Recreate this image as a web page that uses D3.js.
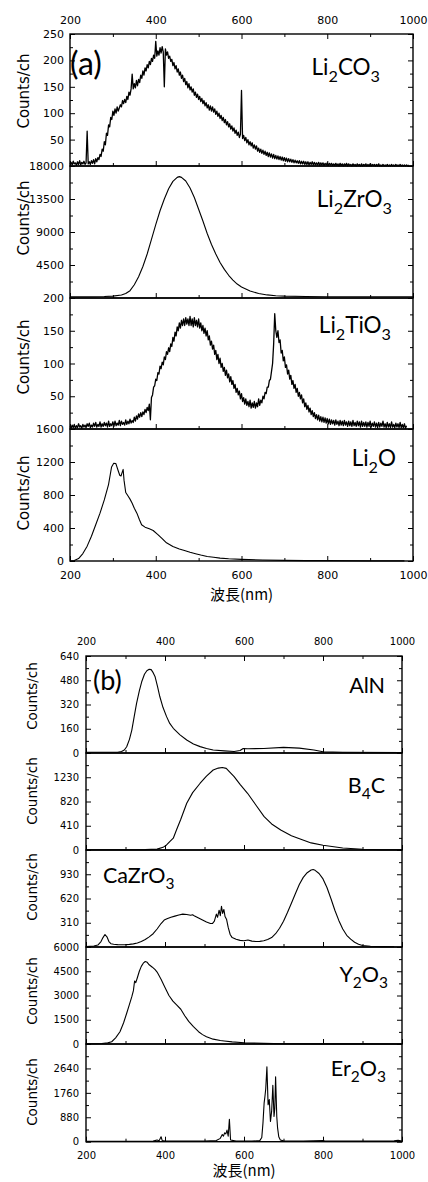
<!DOCTYPE html>
<html>
<head>
<meta charset="utf-8">
<script src="https://cdn.jsdelivr.net/npm/d3@7"></script>
<style>
  body { margin: 0; background: #fff; }
  svg { display: block; }
  .tick text { font-family: "DejaVu Sans", "Liberation Sans", sans-serif; fill: #000; }
  .tick line { stroke: #000; stroke-width: 1; }
</style>
</head>
<body>
<svg id="chart" width="428" height="1182"></svg>
<script>
// ---- wavelength ticks (nm) ----
const xTickLabels = [200, 400, 600, 800, 1000];
const xTickMinor = [300, 500, 700, 900];

// ---- (a) lithium compounds ----
// Li2CO3 counts, one channel every 2.5 nm starting at 200 nm
const li2co3Start = 200, li2co3Step = 2.5;
const li2co3Counts = [
  3,7,2,9,4,6,1,8,3,10,2,7,4,9,3, 6, 66,
  4,8,3,10,5,12,4,14,8,16,12,
  22,18,32,28,46,40,62,58,78,74,92,88,104,96,108,100,112,104,110,116,112,124,118,126,120,132,126,140,134,146,
  174,
  146,156,148,162,152,164,158,172,166,180,172,186,180,192,186,198,192,204,198,210,204,
  236,
  208,218,210,224,214,226,216,
  150,
  222,210,216,204,208,198,202,190,196,184,190,178,184,172,178,166,172,160,166,154,160,148,156,144,150,
  140,146,134,140,130,136,126,132,122,128,118,124,114,120,110,116,106,114,104,112,102,108,98,104,94,
  100,90,96,86,92,82,88,78,84,74,80,70,76,66,72,62,68,58,64,54,60,
  143,
  52,58,48,54,44,50,40,46,38,44,34,40,32,38,28,34,26,32,24,30,22,28,20,26,18,25,17,23,15,22,
  14,20,13,19,12,18,11,17,10,16,9,15,8,14,8,13,7,12,6,11,6,10,5,10,4,9,4,9,3,
  8,3,8,2,7,3,8,2,7,2,6,2,7,1,6,2,6,1,5,2,6,
  1,5,2,5,1,4,1,5,1,4,0,5,1,4,0,4,1,5,0,4,1,3,0,4,1,3,0,4,1,3,0,4,0,3,1,4,0,3,0,4,
  0,3,1,3,0,3,0,4,0,2,0,3,0,2,0,3,0,2,0,3,0,2,0,3,0,2,0,3,0,2,0,2,0,2,0,2
];

const li2zro3 = [
  [200,150],[250,160],[280,200],[300,260],[320,420],[330,620],[340,1000],[350,1800],[360,2900],[370,4300],[380,6000],
  [390,8000],[400,10000],[410,11900],[420,13500],[430,14900],[440,15900],[450,16450],[455,16550],[460,16450],[470,15950],
  [480,15000],[490,13700],[500,12100],[510,10500],[520,8800],[530,7300],[540,6000],[550,4850],[560,3900],[570,3100],
  [580,2450],[590,1900],[600,1500],[620,950],[640,620],[660,420],[680,310],[700,250],[750,200],[800,180],[900,170],[1000,165]
];

// Li2TiO3 counts, one channel every 2.5 nm starting at 200 nm
const li2tio3Start = 200, li2tio3Step = 2.5;
const li2tio3Counts = [
  4,1,6,2,7,1,5,2,8,3, 5,1,7,3,6,2,8,4,9,2, 6,3,9,4,10,3,7,4,11,3, 8,4,10,5,9,3,12,4,8,5,
  11,4,12,5,9,6,13,5,12,7, 10,6,14,7,12,8,15,9,13,10, 18,12,20,15,23,18,25,19,26,22, 30,25,33,28,38,
  14,
  48,52,64,66,76,74,86,84,96,92, 102,98,110,106,118,114,124,118,130,126, 140,134,148,142,156,150,162,154,166,158,
  168,158,170,160,168,158,172,158,168,156, 170,158,166,
  156,168,154,162,150,158,146,154,142,150, 136,142,128,134,122,128,114,120,106,114,
  100,108,94,100,88,94,82,90,78,84, 72,80,68,74,62,68,56,62,52,58, 46,54,42,48,38,46,36,42,34,44,
  32,40,33,42,32,40,34,46,36,44, 40,50,46,56,54,64,64,74,76,88, 100,130,
  176,150,140,150,132,136,116,120,104,110, 94,98,84,90,76,82,68,74,62,68, 56,62,50,56,46,52,40,46,34,40,
  30,36,26,32,22,28,19,25,16,22, 14,21,12,19,11,18,10,17,9,16,
  8,15,7,14,8,13,6,14,7,12, 5,13,6,12,5,13,6,11,4,12, 5,11,4,13,5,10,4,12,5,11, 3,12,4,10,4,11,3,10,4,12,
  3,9,4,11,3,9,2,10,3,9, 4,12,3,8,2,10,3,8,2,11, 3,7,2,9,3,8,2,10,2,7, 2,8,1,5
];

const li2o = [
  [200,0],[210,5],[220,30],[230,90],[240,180],[250,300],[260,440],[270,580],[280,740],[290,930],[297,1140],[302,1185],
  [307,1180],[312,1100],[316,1040],[319,1030],[322,1080],[324,1110],[326,980],[330,830],[335,790],[340,750],[345,700],
  [350,640],[356,580],[362,500],[367,440],[375,410],[385,390],[394,370],[405,320],[415,270],[425,220],[440,175],[455,145],
  [465,130],[480,105],[495,85],[505,72],[520,55],[535,45],[550,35],[570,27],[600,20],[650,12],[700,8],[750,5],[800,4],
  [900,2],[980,1]
];

// ---- (b) other ceramics ----
const aln = [
  [200,5],[280,5],[290,10],[297,20],[303,41],[310,90],[316,151],[322,240],[328,327],[335,410],[341,470],[348,520],[354,543],
  [360,552],[365,550],[370,530],[375,503],[381,440],[387,371],[395,300],[404,240],[412,195],[421,163],[438,120],[455,86],
  [472,60],[489,42],[505,30],[522,20],[550,14],[575,10],[590,16],[598,30],[610,28],[650,30],[700,37],[740,32],[777,20],
  [800,8],[850,5],[1000,3]
];

const b4c = [
  [200,3],[300,4],[350,6],[380,15],[395,45],[404,85],[412,140],[421,199],[429,338],[440,520],[455,791],[470,970],[489,1129],
  [505,1250],[522,1352],[535,1385],[545,1395],[555,1380],[575,1240],[590,1110],[609,959],[630,760],[651,564],[670,440],
  [693,338],[720,240],[744,181],[770,120],[800,80],[850,35],[900,12],[950,5],[1000,3]
];

const cazro3 = [
  [200,5],[210,8],[220,12],[230,25],[238,70],[243,120],[248,160],[253,130],[258,70],[263,42],[270,35],[280,30],[290,28],
  [300,30],[310,34],[320,40],[330,52],[340,70],[350,95],[360,130],[370,170],[380,230],[390,300],[398,345],[405,360],
  [415,380],[425,395],[435,410],[445,420],[455,415],[465,405],[470,412],[475,395],[485,370],[495,345],[505,320],[515,300],
  [520,300],[525,330],[530,420],[533,380],[537,470],[540,400],[543,520],[546,430],[549,480],[552,390],[556,350],[560,250],
  [565,160],[570,120],[580,100],[590,85],[600,80],[610,90],[620,75],[630,70],[640,72],[650,80],[660,95],[670,120],
  [680,170],[690,240],[700,330],[710,440],[720,560],[730,680],[740,800],[750,890],[760,950],[770,985],[775,990],[780,980],
  [790,940],[800,870],[810,760],[820,620],[830,470],[840,340],[850,230],[860,150],[870,100],[880,60],[890,35],[900,20],
  [920,10],[950,5],[980,3]
];

const y2o3 = [
  [200,20],[220,20],[240,30],[255,70],[265,140],[275,380],[286,760],[295,1300],[303,1900],[310,2450],[316,2930],[320,3300],
  [323,3900],[326,3800],[330,4100],[335,4500],[340,4800],[345,5000],[350,5100],[355,5050],[360,4900],[368,4750],[375,4600],
  [380,4450],[390,4000],[400,3500],[410,3000],[420,2650],[430,2400],[440,2150],[450,1750],[460,1400],[472,1070],[485,760],
  [495,580],[505,450],[522,300],[540,220],[550,190],[570,130],[600,80],[650,40],[700,20],[800,10],[900,5],[1000,3]
];

const er2o3 = [
  [200,10],[300,15],[370,20],[380,60],[385,30],[390,180],[393,40],[400,20],[500,25],[530,40],[540,120],[545,260],[548,200],
  [551,320],[554,280],[557,420],[560,200],[563,810],[566,60],[580,20],[620,20],[640,40],[645,150],[648,670],[651,1400],
  [653,1630],[655,1900],[658,2700],[661,1330],[664,1520],[667,730],[670,1100],[673,2030],[676,910],[678,1200],[680,2340],
  [683,900],[685,500],[688,180],[692,60],[700,30],[750,20],[800,40],[805,20],[900,20],[980,30],[990,50],[1000,20]
];

// ---- y ranges and tick steps per material ----
const yMaxA = [250, 18000, 200, 1600];
const yMajorA = [50, 4500, 50, 400];
const yMaxB = [640, 1640, 1240, 6000, 3520];
const yMajorB = [160, 410, 310, 1500, 880];
const namesA = [["Li","2","CO","3"], ["Li","2","ZrO","3"], ["Li","2","TiO","3"], ["Li","2","O"]];
const namesB = [["AlN"], ["B","4","C"], ["CaZrO","3"], ["Y","2","O","3"], ["Er","2","O","3"]];

const li2co3 = li2co3Counts.map((c, i) => [li2co3Start + i * li2co3Step, c]);
const li2tio3 = li2tio3Counts.map((c, i) => [li2tio3Start + i * li2tio3Step, c]);

const svg = d3.select("#chart");

function formula(g, parts, x, y, size, anchor) {
  const t = g.append("text")
    .attr("x", x).attr("y", y)
    .attr("text-anchor", anchor)
    .attr("font-family", "Lato, 'Open Sans', sans-serif")
    .attr("font-size", size)
    .attr("fill", "#000");
  let shift = 0;
  parts.forEach((s, i) => {
    const sub = i % 2 === 1;
    const want = sub ? size * 0.3 : 0;
    const ts = t.append("tspan").text(s).attr("dy", want - shift);
    if (sub) ts.attr("font-size", size * 0.72);
    shift = want;
  });
}

function drawBlock(cfg) {
  const x = d3.scaleLinear().domain([200, 1000]).range([cfg.left, cfg.right]);
  const n = cfg.series.length;
  const root = svg.append("g");

  cfg.series.forEach((data, i) => {
    const top = cfg.tops[i], bottom = cfg.tops[i + 1];
    const max = cfg.maxes[i], step = cfg.majors[i];
    const y = d3.scaleLinear().domain([0, max]).range([bottom, top]);
    const g = root.append("g");
    const major = d3.range(0, max + step / 2, step);
    const minor = d3.range(step / 2, max, step);
    // zero sits under the next panel's top label, except where that label is absent
    const labelled = major.filter(v =>
      !(cfg.hideTop[i] && v === max) && !(v === 0 && cfg.hideZero[i]));

    // spectrum
    g.append("path").datum(data)
      .attr("fill", "none").attr("stroke", "#000")
      .attr("stroke-width", cfg.lineWidths[i])
      .attr("stroke-linejoin", "round")
      .attr("d", d3.line().x(d => x(d[0])).y(d => y(d[1])));

    // left axis: majors and minors pointing inward
    const la = g.append("g").attr("transform", `translate(${cfg.left},0)`)
      .call(d3.axisLeft(y).tickValues(labelled).tickSizeInner(-cfg.tickMajor).tickSizeOuter(0)
        .tickPadding(cfg.yPad).tickFormat(d3.format("d")));
    la.selectAll("text").attr("font-size", cfg.tickFont);
    la.select(".domain").remove();
    const unlabelled = major.filter(v => !labelled.includes(v));
    g.append("g").attr("transform", `translate(${cfg.left},0)`)
      .call(d3.axisLeft(y).tickValues(unlabelled).tickSizeInner(-cfg.tickMajor).tickSizeOuter(0).tickFormat(""))
      .select(".domain").remove();
    g.append("g").attr("transform", `translate(${cfg.left},0)`)
      .call(d3.axisLeft(y).tickValues(minor).tickSizeInner(-cfg.tickMinor).tickSizeOuter(0).tickFormat(""))
      .select(".domain").remove();

    // right axis ticks
    g.append("g").attr("transform", `translate(${cfg.right},0)`)
      .call(d3.axisRight(y).tickValues(major).tickSizeInner(-cfg.tickMajor).tickSizeOuter(0).tickFormat(""))
      .select(".domain").remove();
    g.append("g").attr("transform", `translate(${cfg.right},0)`)
      .call(d3.axisRight(y).tickValues(minor).tickSizeInner(-cfg.tickMinor).tickSizeOuter(0).tickFormat(""))
      .select(".domain").remove();

    // wavelength ticks along the bottom of every panel
    const last = i === n - 1;
    const ba = g.append("g").attr("transform", `translate(0,${bottom})`)
      .call(d3.axisBottom(x).tickValues(xTickLabels).tickSizeInner(-cfg.tickMajor).tickSizeOuter(0)
        .tickPadding(cfg.xPadBottom).tickFormat(last ? d3.format("d") : ""));
    ba.selectAll("text").attr("font-size", cfg.tickFont);
    ba.select(".domain").remove();
    g.append("g").attr("transform", `translate(0,${bottom})`)
      .call(d3.axisBottom(x).tickValues(xTickMinor).tickSizeInner(-cfg.tickMinor).tickSizeOuter(0).tickFormat(""))
      .select(".domain").remove();

    // panel frame
    g.append("rect")
      .attr("x", cfg.left).attr("y", top)
      .attr("width", cfg.right - cfg.left).attr("height", bottom - top)
      .attr("fill", "none").attr("stroke", "#000").attr("stroke-width", 1.4);

    // y title
    g.append("text")
      .attr("transform", `translate(${cfg.yTitleX},${cfg.yTitleCenters[i]}) rotate(-90)`)
      .attr("text-anchor", "middle")
      .attr("font-family", "'DejaVu Sans', sans-serif")
      .attr("font-size", cfg.yTitleSize)
      .attr("fill", "#000")
      .text("Counts/ch");

    // material name
    const lp = cfg.namePos[i];
    formula(g, cfg.names[i], lp[0], lp[1], cfg.nameSize, lp[2]);
  });

  // top wavelength axis
  const ta = root.append("g").attr("transform", `translate(0,${cfg.tops[0]})`)
    .call(d3.axisTop(x).tickValues(xTickLabels).tickSizeInner(-cfg.tickMajor).tickSizeOuter(0)
      .tickPadding(cfg.xPadTop).tickFormat(d3.format("d")));
  ta.selectAll("text").attr("font-size", cfg.tickFont);
  ta.select(".domain").remove();
  root.append("g").attr("transform", `translate(0,${cfg.tops[0]})`)
    .call(d3.axisTop(x).tickValues(xTickMinor).tickSizeInner(-cfg.tickMinor).tickSizeOuter(0).tickFormat(""))
    .select(".domain").remove();

  // block tag
  root.append("text")
    .attr("x", cfg.tag[1]).attr("y", cfg.tag[2])
    .attr("font-family", "Lato, 'Open Sans', sans-serif")
    .attr("font-size", cfg.tag[3]).attr("fill", "#000")
    .text(cfg.tag[0]);

  // x title
  root.append("text")
    .attr("x", (cfg.left + cfg.right) / 2).attr("y", cfg.xTitleY)
    .attr("text-anchor", "middle")
    .attr("font-family", "'Noto Sans CJK JP', sans-serif")
    .attr("font-size", 15).attr("fill", "#000")
    .text("波長(nm)");
}

drawBlock({
  left: 70, right: 413,
  tops: [34, 166, 298, 429, 561],
  series: [li2co3, li2zro3, li2tio3, li2o],
  maxes: yMaxA, majors: yMajorA,
  hideTop: [false, false, false, false],
  hideZero: [true, true, true, false],
  lineWidths: [1.3, 1.1, 1.3, 1.1],
  names: namesA,
  namePos: [[380, 75, "end"], [392, 207, "end"], [391, 333, "end"], [396, 466, "end"]],
  nameSize: 22.5,
  tickFont: 11, tickMajor: 5, tickMinor: 3,
  yPad: 6, xPadTop: 10, xPadBottom: 10,
  yTitleX: 29, yTitleCenters: [91, 218, 357, 493], yTitleSize: 15,
  tag: ["(a)", 70, 75, 32],
  xTitleY: 600
});

drawBlock({
  left: 86, right: 402,
  tops: [656, 753, 850, 947, 1044, 1141.7],
  series: [aln, b4c, cazro3, y2o3, er2o3],
  maxes: yMaxB, majors: yMajorB,
  hideTop: [false, true, true, false, true],
  hideZero: [false, false, true, false, false],
  lineWidths: [1.1, 1.1, 1.1, 1.1, 1.1],
  names: namesB,
  namePos: [[385, 693, "end"], [385, 793, "end"], [103, 883, "start"], [388, 982, "end"], [386, 1076, "end"]],
  nameSize: 21.5,
  tickFont: 10, tickMajor: 5, tickMinor: 3,
  yPad: 7, xPadTop: 11, xPadBottom: 10,
  yTitleX: 37, yTitleCenters: [696, 791, 887, 991, 1092], yTitleSize: 13.5,
  tag: ["(b)", 93, 690, 27],
  xTitleY: 1176
});
</script>
</body>
</html>
